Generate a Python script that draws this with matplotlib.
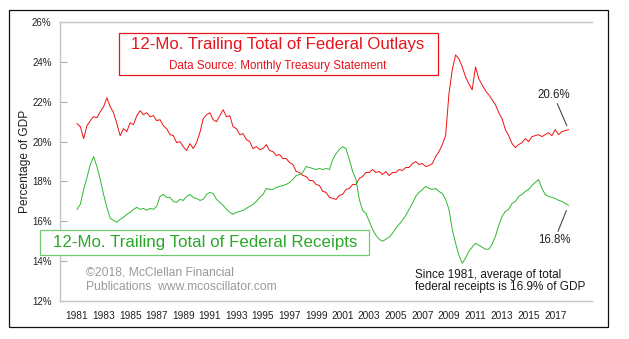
import numpy as np
import matplotlib.pyplot as plt
from matplotlib.patches import Rectangle

plt.rcParams['font.family'] = ['Liberation Sans', 'DejaVu Sans']

# quarterly readings, Q1 1981 .. Q1 2018, as % of GDP
quarters = np.arange(1981, 2018.01, 0.25)

outlays = [
    20.9, 20.75, 20.15, 20.8,     # 1981
    21.05, 21.25, 21.2, 21.5,     # 1982
    21.75, 22.2, 21.75, 21.45,    # 1983
    20.9, 20.3, 20.65, 20.5,      # 1984
    20.95, 20.85, 21.3, 21.55,    # 1985
    21.35, 21.45, 21.25, 21.3,    # 1986
    21.05, 21.1, 20.8, 20.65,     # 1987
    20.35, 20.3, 19.95, 20.0,     # 1988
    19.75, 19.55, 19.9, 19.65,    # 1989
    19.95, 20.45, 21.15, 21.35,   # 1990
    21.45, 21.1, 21.0, 21.3,      # 1991
    21.6, 21.25, 21.3, 20.75,     # 1992
    20.65, 20.35, 20.4, 20.1,     # 1993
    20.0, 19.65, 19.75, 19.6,     # 1994
    19.65, 19.85, 19.55, 19.5,    # 1995
    19.3, 19.35, 19.15, 19.15,    # 1996
    18.95, 18.85, 18.5, 18.45,    # 1997
    18.3, 18.25, 18.05, 18.05,    # 1998
    17.85, 17.8, 17.5, 17.45,     # 1999
    17.2, 17.15, 17.1, 17.3,      # 2000
    17.35, 17.6, 17.65, 17.85,    # 2001
    17.85, 18.15, 18.25, 18.45,   # 2002
    18.45, 18.6, 18.45, 18.5,     # 2003
    18.35, 18.5, 18.3, 18.45,     # 2004
    18.45, 18.6, 18.55, 18.7,     # 2005
    18.7, 18.9, 19.0, 18.85,      # 2006
    18.9, 18.75, 18.8, 18.9,      # 2007
    19.25, 19.5, 19.85, 20.3,     # 2008
    22.4, 23.6, 24.35, 24.15,     # 2009
    23.75, 23.25, 22.9, 22.6,     # 2010
    23.75, 23.15, 22.85, 22.55,   # 2011
    22.35, 22.1, 21.85, 21.45,    # 2012
    21.15, 20.6, 20.3, 19.9,      # 2013
    19.7, 19.85, 19.95, 20.15,    # 2014
    20.0, 20.25, 20.3, 20.35,     # 2015
    20.25, 20.35, 20.45, 20.3,    # 2016
    20.6, 20.35, 20.5, 20.55,     # 2017
    20.6,                         # 2018
]

receipts = [
    16.6, 16.85, 17.6, 18.2,      # 1981
    18.85, 19.25, 18.75, 18.1,    # 1982
    17.35, 16.7, 16.15, 16.05,    # 1983
    15.95, 16.1, 16.2, 16.35,     # 1984
    16.45, 16.6, 16.7, 16.6,      # 1985
    16.65, 16.55, 16.65, 16.6,    # 1986
    16.75, 17.25, 17.35, 17.2,    # 1987
    17.2, 17.0, 16.95, 17.1,      # 1988
    17.05, 17.25, 17.35, 17.2,    # 1989
    17.15, 17.05, 17.1, 17.35,    # 1990
    17.45, 17.4, 17.1, 16.95,     # 1991
    16.8, 16.6, 16.45, 16.35,     # 1992
    16.45, 16.5, 16.55, 16.65,    # 1993
    16.75, 16.85, 17.0, 17.2,     # 1994
    17.35, 17.65, 17.6, 17.6,     # 1995
    17.7, 17.75, 17.8, 17.85,     # 1996
    17.95, 18.1, 18.3, 18.35,     # 1997
    18.45, 18.75, 18.7, 18.65,    # 1998
    18.6, 18.65, 18.6, 18.65,     # 1999
    18.6, 19.1, 19.4, 19.6,       # 2000
    19.75, 19.65, 19.1, 18.5,     # 2001
    18.1, 17.1, 16.55, 16.4,      # 2002
    16.0, 15.6, 15.3, 15.1,       # 2003
    15.0, 15.1, 15.2, 15.4,       # 2004
    15.65, 15.85, 16.05, 16.3,    # 2005
    16.6, 16.9, 17.25, 17.45,     # 2006
    17.6, 17.75, 17.65, 17.6,     # 2007
    17.65, 17.5, 17.4, 17.1,      # 2008
    16.6, 15.6, 14.9, 14.3,       # 2009
    13.9, 14.15, 14.5, 14.7,      # 2010
    14.9, 14.8, 14.7, 14.6,       # 2011
    14.6, 14.85, 15.25, 15.8,     # 2012
    16.25, 16.5, 16.6, 16.9,      # 2013
    17.0, 17.25, 17.35, 17.5,     # 2014
    17.6, 17.8, 17.95, 18.1,      # 2015
    17.65, 17.35, 17.25, 17.2,    # 2016
    17.15, 17.05, 17.0, 16.9,     # 2017
    16.8,                         # 2018
]

year_ticks = list(range(1981, 2018, 2))
pct_ticks = [12, 14, 16, 18, 20, 22, 24, 26]
avg_receipts = 16.9

RED = '#e8141c'
GREEN = '#2aa82a'

fig = plt.figure(figsize=(6.29, 3.39), dpi=100)
ax = fig.add_axes([0.0954, 0.112, 0.846, 0.823])

ax.plot(quarters, outlays, color='#f01010', lw=0.7)
ax.plot(quarters, receipts, color='#30b830', lw=0.7)

ax.set_xlim(1979.72, 2019.78)
ax.set_ylim(12, 26)

ax.set_xticks(year_ticks)
ax.set_xticklabels([str(y) for y in year_ticks])
ax.set_yticks(pct_ticks)
ax.set_yticklabels([f'{p}%' for p in pct_ticks])
ax.tick_params(axis='x', length=0, pad=7, labelsize=7.3, labelcolor='#222222')
ax.tick_params(axis='y', direction='in', length=5, width=0.8, color='#b0b0b0',
               pad=6, labelsize=7.0, labelcolor='#222222')

for side in ['top', 'bottom', 'left']:
    ax.spines[side].set_color('#c4c4c4')
    ax.spines[side].set_linewidth(1.0)
ax.spines['right'].set_visible(False)

ax.set_ylabel('Percentage of GDP', fontsize=8.6, color='#222222', labelpad=0.5)

# outlays title box
ax.add_patch(Rectangle((0.111, 0.809), 0.599, 0.153, transform=ax.transAxes,
                       fill=False, edgecolor=RED, lw=0.9, clip_on=False))
ax.text(0.409, 0.918, '12-Mo. Trailing Total of Federal Outlays', transform=ax.transAxes,
        ha='center', va='center', fontsize=12.1, color=RED)
ax.text(0.409, 0.842, 'Data Source: Monthly Treasury Statement', transform=ax.transAxes,
        ha='center', va='center', fontsize=8.4, color=RED)

# receipts title box
ax.add_patch(Rectangle((-0.0376, 0.165), 0.6186, 0.089, transform=ax.transAxes,
                       facecolor='white', edgecolor='#70cc70', lw=0.9,
                       clip_on=False, zorder=5))
ax.text(0.272, 0.209, '12-Mo. Trailing Total of Federal Receipts', transform=ax.transAxes,
        ha='center', va='center', fontsize=12.2, color=GREEN, zorder=6)

ax.text(0.049, 0.103, '\u00a92018, McClellan Financial', transform=ax.transAxes,
        ha='left', va='center', fontsize=8.7, color='#9a9a9a')
ax.text(0.049, 0.051, 'Publications  www.mcoscillator.com', transform=ax.transAxes,
        ha='left', va='center', fontsize=8.7, color='#9a9a9a')

ax.text(0.667, 0.093, 'Since 1981, average of total', transform=ax.transAxes,
        ha='left', va='center', fontsize=8.5, color='#1a1a1a')
ax.text(0.667, 0.051, f'federal receipts is {avg_receipts:.1f}% of GDP', transform=ax.transAxes,
        ha='left', va='center', fontsize=8.5, color='#1a1a1a')

# end-value callouts
ax.annotate(f'{outlays[-1]:.1f}%', xy=(quarters[-1], outlays[-1]), xytext=(2016.87, 22.35),
            ha='center', va='center', fontsize=8.3, color='#222222',
            arrowprops=dict(arrowstyle='-', color='#333333', lw=0.7, shrinkA=0, shrinkB=3))
ax.annotate(f'{receipts[-1]:.1f}%', xy=(quarters[-1], receipts[-1]), xytext=(2016.94, 15.05),
            ha='center', va='center', fontsize=8.3, color='#222222',
            arrowprops=dict(arrowstyle='-', color='#333333', lw=0.7, shrinkA=0, shrinkB=4))

# outer frame
fig.patches.append(Rectangle((0.0143, 0.0354), 0.952, 0.935, transform=fig.transFigure,
                             fill=False, edgecolor='#111111', lw=0.9))

fig.savefig('out.png', dpi=100)
